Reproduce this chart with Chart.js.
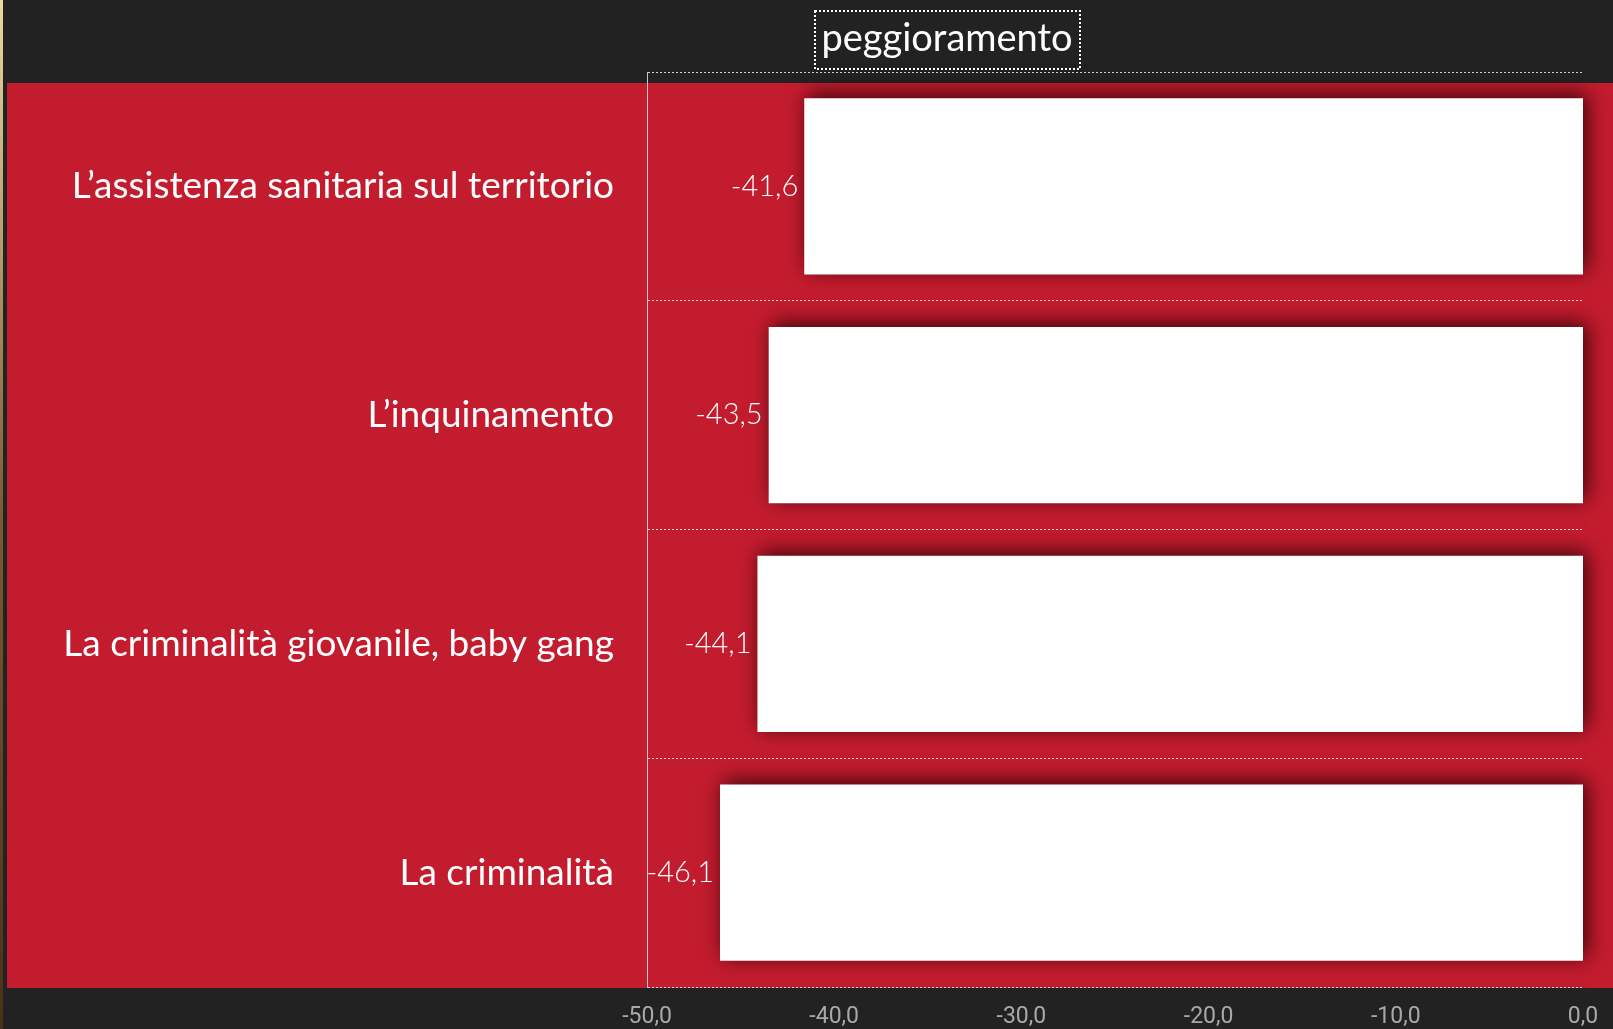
<!DOCTYPE html>
<html>
<head>
<meta charset="utf-8">
<script src="https://cdn.jsdelivr.net/npm/chart.js@4"></script>
<style>
html, body { margin: 0; padding: 0; background: #222; }
canvas { display: block; }
</style>
</head>
<body>
<canvas id="myChart" width="1613" height="1029"></canvas>
<script>
// dati
const categories = ['L’assistenza sanitaria sul territorio', 'L’inquinamento', 'La criminalità giovanile, baby gang', 'La criminalità'];
const values = [-41.6, -43.5, -44.1, -46.1];
const seriesName = 'peggioramento';
const xMin = -50, xMax = 0, xStep = 10;

const fmt = v => Number(v).toFixed(1).replace('.', ',');

// sfondo rosso + striscia a sinistra
const background = {
	id: 'background',
	beforeDraw(chart) {
		const c = chart.ctx;
		c.save();
		const g = c.createLinearGradient(0, 0, 0, chart.height);
		g.addColorStop(0, '#e9d9a2');
		g.addColorStop(0.5, '#7a5a30');
		g.addColorStop(1, '#4a3018');
		c.fillStyle = g;
		c.fillRect(0, 0, 3, chart.height);
		c.fillStyle = '#c41c2f';
		c.fillRect(7, 83, chart.width - 7, 905);
		c.restore();
	}
};

const barShadow = {
	id: 'barShadow',
	beforeDatasetsDraw(chart) {
		const c = chart.ctx;
		c.save();
		c.shadowColor = 'rgba(45,0,5,0.9)';
		c.shadowBlur = 20;
		c.shadowOffsetX = 4;
		c.shadowOffsetY = -4;
	},
	afterDatasetsDraw(chart) {
		chart.ctx.restore();
	}
};

const labelsAndTitle = {
	id: 'labelsAndTitle',
	afterDraw(chart) {
		const c = chart.ctx;
		const meta = chart.getDatasetMeta(0);
		c.save();
		c.fillStyle = '#fff';
		c.font = '300 29px Lato';
		c.textAlign = 'right';
		c.textBaseline = 'middle';
		meta.data.forEach((bar, i) => {
			c.fillText(fmt(values[i]), bar.x - 6, bar.y);
		});
		// titolo con riquadro tratteggiato
		c.font = '38px Lato';
		c.textAlign = 'center';
		c.fillText(seriesName, 947, 39);
		c.strokeStyle = '#fff';
		c.lineWidth = 2;
		c.setLineDash([2, 2]);
		c.strokeRect(815, 11, 265, 58);
		c.restore();
	}
};

var ctx = document.getElementById('myChart').getContext('2d');
var myChart = new Chart(ctx, {
	type: 'bar',
	data: {
		labels: categories,
		datasets: [{
			label: seriesName,
			data: values,
			backgroundColor: '#ffffff',
			borderWidth: 0,
			barPercentage: 0.77,
			categoryPercentage: 1,
			clip: false
		}]
	},
	options: {
		responsive: false,
		animation: false,
		indexAxis: 'y',
		layout: { padding: { top: 72, right: 30, left: 0, bottom: 0 } },
		plugins: {
			legend: { display: false },
			tooltip: { enabled: false }
		},
		scales: {
			x: {
				min: xMin,
				max: xMax,
				ticks: {
					stepSize: xStep,
					color: '#a8a8a8',
					font: { family: 'Roboto', size: 23 },
					padding: 8,
					maxRotation: 0,
					callback: v => fmt(v)
				},
				grid: { display: false },
				border: { display: false },
				afterFit: s => { s.height = 42; }
			},
			y: {
				grid: { color: 'rgba(255,255,255,0.8)', lineWidth: 1, drawTicks: false, offset: true },
				border: { display: true, color: '#c8c8c8', width: 1, dash: [2, 2] },
				ticks: {
					color: '#ffffff',
					font: { family: 'Lato', size: 37 },
					padding: 33
				},
				afterFit: s => { s.width = 647; s.paddingTop = 0; s.paddingBottom = 0; }
			}
		}
	},
	plugins: [background, barShadow, labelsAndTitle]
});
</script>
</body>
</html>
